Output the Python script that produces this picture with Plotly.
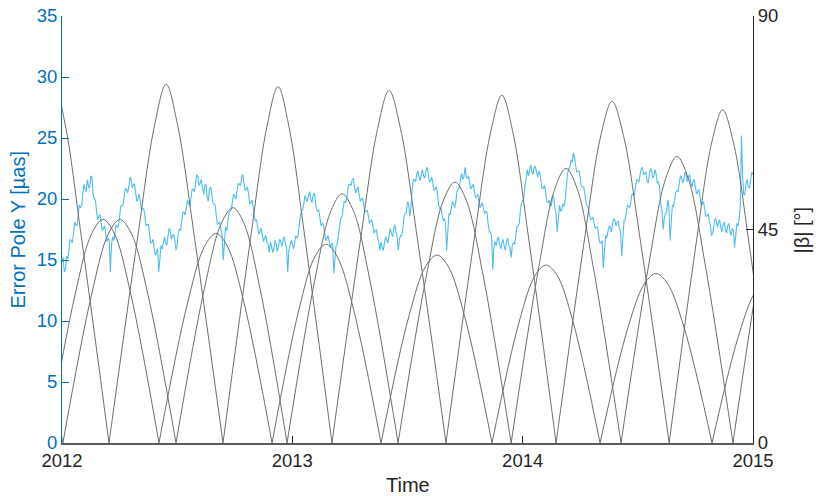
import plotly.graph_objects as go

# ---------------- data ----------------
# Error Pole Y [µas]: values at 2012.00, 2012.01, ... 2015.00
error_pole_y = [
    14.8, 14.0, 15.3, 15.8, 16.6, 17.2, 17.9, 18.6, 19.3, 20.4,
    20.8, 21.6, 20.9, 21.8, 20.0, 19.0, 18.6, 18.0, 17.6, 17.1,
    16.8, 14.0, 16.9, 17.2, 17.7, 18.6, 19.5, 20.2, 20.8, 21.0,
    21.6, 21.2, 20.5, 20.0, 19.9, 19.2, 18.6, 17.9, 17.2, 16.4,
    16.0, 15.6, 14.0, 16.2, 16.5, 16.4, 16.9, 17.4, 17.0, 16.6,
    16.2, 17.5, 18.2, 18.9, 19.3, 19.6, 20.1, 20.8, 21.3, 21.8,
    21.3, 20.9, 21.1, 20.2, 20.8, 20.5, 19.6, 18.6, 18.0, 17.5,
    15.0, 17.7, 18.0, 19.0, 19.8, 20.2, 20.7, 21.2, 21.8, 21.3,
    20.8, 20.4, 19.7, 19.4, 18.2, 17.6, 17.4, 17.0, 16.8, 16.4,
    15.6, 16.1, 16.0, 16.3, 16.1, 16.5, 16.7, 16.3, 14.0, 16.2,
    # 2013
    16.3, 16.4, 16.8, 17.8, 19.0, 19.7, 20.0, 20.3, 20.0, 20.3,
    19.8, 19.0, 18.4, 18.0, 17.2, 16.8, 16.5, 16.3, 13.9, 16.2,
    17.0, 18.4, 19.2, 19.7, 20.6, 21.2, 21.6, 21.0, 20.8, 20.4,
    20.0, 19.5, 19.0, 18.6, 18.2, 17.8, 17.4, 16.8, 15.8, 16.0,
    16.4, 16.6, 17.0, 17.2, 17.5, 17.3, 15.8, 17.0, 17.6, 18.8,
    19.8, 18.6, 20.8, 21.6, 22.0, 21.8, 22.1, 21.9, 22.3, 22.1,
    21.5, 21.3, 20.8, 20.5, 19.2, 18.7, 18.4, 15.8, 18.8, 19.3,
    19.6, 19.8, 20.8, 21.6, 21.6, 22.6, 21.7, 21.3, 21.0, 20.7,
    20.2, 19.8, 19.5, 19.2, 19.0, 18.0, 17.3, 14.2, 16.5, 16.7,
    16.3, 16.4, 16.1, 16.5, 16.2, 15.2, 16.4, 17.0, 17.8, 19.0,
    # 2014
    19.8, 21.0, 22.4, 22.5, 22.2, 22.6, 22.2, 22.3, 21.4, 20.9,
    20.5, 19.7, 19.4, 20.3, 19.2, 17.3, 19.5, 19.1, 19.4, 21.2,
    22.5, 23.2, 23.8, 22.7, 22.3, 21.7, 21.0, 20.4, 19.5, 18.7,
    18.4, 18.0, 17.7, 17.0, 16.4, 14.3, 17.0, 17.3, 17.7, 17.9,
    18.3, 18.1, 17.6, 15.3, 18.2, 18.9, 19.4, 19.8, 20.4, 21.0,
    21.5, 22.0, 22.6, 22.1, 21.5, 22.0, 22.3, 21.9, 22.0, 21.4,
    19.5, 17.5, 18.8, 19.9, 16.6, 19.5, 20.0, 20.7, 21.3, 21.8,
    21.6, 22.0, 21.8, 21.3, 21.5, 21.0, 20.6, 20.2, 19.6, 19.2,
    18.6, 18.2, 17.0, 17.8, 18.3, 18.0, 17.7, 17.9, 17.5, 17.8,
    17.4, 17.6, 16.0, 18.0, 18.3, 25.2, 20.3, 21.3, 21.0, 21.8,
    22.0,
]
# Error Pole Y [µas]: in-between samples at 2012.005, 2012.015, ... 2014.995
error_pole_y_between = [
    15.2, 14.3, 15.1, 16.7, 16.4, 18.1, 17.8, 19.5, 19.4, 21.2,
    20.6, 21.0, 21.9, 20.4, 19.9, 18.3, 18.7, 17.4, 17.8, 16.5,
    16.6, 16.3, 16.6, 17.9, 17.8, 19.4, 19.5, 20.9, 20.5, 21.8,
    20.9, 21.2, 19.8, 20.4, 19.1, 19.2, 17.8, 17.9, 16.4, 16.7,
    15.4, 15.9, 15.6, 15.9, 16.9, 16.2, 17.6, 16.7, 17.1, 15.8,
    17.2, 17.4, 18.9, 18.7, 19.9, 19.4, 20.8, 20.6, 22.0, 21.1,
    21.6, 20.4, 21.2, 19.8, 21.0, 19.7, 19.5, 17.9, 18.1, 17.0,
    16.8, 17.4, 18.9, 19.1, 20.4, 20.0, 21.3, 21.1, 22.0, 20.7,
    21.0, 19.6, 19.9, 18.5, 18.3, 17.1, 17.6, 16.5, 17.0, 16.3,
    16.5, 15.6, 16.6, 15.7, 16.7, 16.1, 16.9, 16.0, 15.8, 16.6,
    # 2013
    15.9, 17.0, 17.0, 18.7, 19.1, 20.3, 19.8, 20.6, 19.7, 20.5,
    19.1, 19.1, 17.8, 17.9, 16.6, 17.0, 16.0, 16.4, 15.5, 16.3,
    18.0, 18.5, 19.8, 19.9, 21.2, 21.1, 21.7, 20.5, 21.0, 19.8,
    20.1, 18.9, 19.1, 18.0, 18.3, 17.2, 17.5, 16.5, 16.5, 15.8,
    16.9, 16.4, 17.6, 16.9, 17.9, 16.9, 16.7, 17.0, 18.6, 18.9,
    19.6, 19.3, 21.6, 21.4, 22.3, 21.5, 22.4, 21.7, 22.6, 21.4,
    21.8, 20.7, 21.0, 19.5, 19.3, 18.2, 18.0, 17.6, 18.7, 19.8,
    19.3, 20.6, 20.9, 22.1, 21.8, 21.8, 21.9, 20.8, 21.2, 20.1,
    20.4, 19.3, 19.7, 18.8, 18.9, 17.3, 17.0, 16.0, 16.2, 16.9,
    15.9, 16.7, 15.8, 16.8, 16.0, 16.2, 16.3, 17.7, 18.0, 19.7,
    # 2014
    20.1, 22.0, 21.9, 22.8, 22.0, 22.7, 21.8, 22.1, 20.8, 21.1,
    19.8, 19.9, 19.5, 20.1, 18.8, 18.7, 19.0, 19.6, 20.0, 22.1,
    22.6, 23.0, 23.4, 22.2, 22.3, 21.0, 21.0, 19.7, 19.3, 18.3,
    18.5, 17.6, 17.7, 16.4, 16.6, 16.1, 16.8, 17.8, 17.3, 18.4,
    17.8, 18.2, 17.3, 17.4, 18.3, 19.5, 19.3, 20.4, 20.3, 21.6,
    21.4, 22.5, 22.0, 22.2, 21.3, 22.5, 21.7, 22.4, 21.3, 20.9,
    19.0, 18.5, 18.9, 19.4, 18.6, 19.4, 20.6, 20.6, 21.9, 21.3,
    22.2, 21.4, 22.0, 21.0, 21.6, 20.4, 20.8, 19.5, 19.8, 18.6,
    18.8, 17.9, 17.2, 18.4, 17.7, 18.3, 17.3, 18.1, 17.2, 18.0,
    17.0, 17.4, 17.3, 17.8, 19.6, 21.8, 20.4, 21.6, 20.9, 22.2,
]

time_main = [round(2012 + i * 0.01, 3) for i in range(len(error_pole_y))]
time_between = [round(2012.005 + i * 0.01, 3) for i in range(len(error_pole_y_between))]

# |beta| [deg] of three orbital planes, arch by arch:
# zero crossings, epoch and value of each maximum, value half-way up, value 80% of the way up
planeA_zero = [2011.726, 2012.204, 2012.699, 2013.172, 2013.667, 2014.145, 2014.636, 2015.100]
planeA_peak_t = [2011.965, 2012.452, 2012.938, 2013.420, 2013.910, 2014.388, 2014.868]
planeA_peak = [76.1, 75.6, 75.1, 74.3, 73.3, 72.0, 70.2]
planeA_half = [43.3, 43.2, 43.1, 42.9, 42.6, 42.3, 41.7]
planeA_high = [67.4, 67.1, 66.8, 66.3, 65.6, 64.8, 63.5]

planeB_zero = [2011.935, 2012.421, 2012.912, 2013.385, 2013.867, 2014.336, 2014.822, 2015.300]
planeB_peak_t = [2012.178, 2012.669, 2013.146, 2013.628, 2014.102, 2014.579, 2015.060]
planeB_peak = [47.1, 44.2, 41.9, 39.6, 37.5, 35.7, 33.9]
planeB_half = [31.2, 29.5, 28.2, 26.8, 25.5, 24.4, 23.2]
planeB_high = [44.2, 41.5, 39.4, 37.3, 35.4, 33.7, 32.0]

planeC_zero = [2011.510, 2012.004, 2012.495, 2012.977, 2013.459, 2013.950, 2014.427, 2014.913, 2015.400]
planeC_peak_t = [2011.757, 2012.252, 2012.742, 2013.216, 2013.706, 2014.188, 2014.670, 2015.157]
planeC_peak = [44.5, 47.1, 49.6, 52.5, 55.0, 57.9, 60.4, 63.0]
planeC_half = [29.7, 31.2, 32.6, 34.1, 35.4, 36.8, 37.9, 39.0]
planeC_high = [41.8, 44.2, 46.4, 49.0, 51.2, 53.7, 55.8, 57.9]

# ---------------- figure ----------------
BLUE_AX = "#0072BD"
BLUE_LINE = "#4DBEEE"
DARK = "#262626"
GRAY = "#6e6e6e"

# interleave the two blue sample sets in time order
blue_t, blue_v = [], []
for i in range(len(error_pole_y)):
    blue_t.append(time_main[i]); blue_v.append(error_pole_y[i])
    if i < len(error_pole_y_between):
        blue_t.append(time_between[i]); blue_v.append(error_pole_y_between[i])


def arches(zeros, peak_t, peak_v, half_v, high_v):
    xs, ys = [], []
    for i in range(len(peak_t)):
        z0, z1, pt = zeros[i], zeros[i + 1], peak_t[i]
        xs += [z0, z0 + 0.5 * (pt - z0), z0 + 0.8 * (pt - z0), pt,
               pt + 0.2 * (z1 - pt), pt + 0.5 * (z1 - pt), z1, None]
        ys += [0, half_v[i], high_v[i], peak_v[i], high_v[i], half_v[i], 0, None]
    return xs, ys


fig = go.Figure()
fig.add_trace(go.Scatter(
    x=blue_t, y=blue_v, mode="lines", hoverinfo="skip",
    line=dict(color=BLUE_LINE, width=1.1), yaxis="y", showlegend=False,
))
for z, pt, pv, hv, gv in [
    (planeA_zero, planeA_peak_t, planeA_peak, planeA_half, planeA_high),
    (planeB_zero, planeB_peak_t, planeB_peak, planeB_half, planeB_high),
    (planeC_zero, planeC_peak_t, planeC_peak, planeC_half, planeC_high),
]:
    xs, ys = arches(z, pt, pv, hv, gv)
    fig.add_trace(go.Scatter(
        x=xs, y=ys, mode="lines", yaxis="y2", connectgaps=False, hoverinfo="skip",
        line=dict(color=GRAY, width=1, shape="spline", smoothing=1.0),
        showlegend=False,
    ))

FONT = "Liberation Sans, Arial, Helvetica, sans-serif"
fig.update_layout(
    template="none",
    width=816, height=496,
    margin=dict(l=62, r=63, t=16, b=53, pad=0),
    paper_bgcolor="white", plot_bgcolor="white",
    font=dict(family=FONT, size=18, color=DARK),
    showlegend=False,
    xaxis=dict(
        range=[2012, 2015], tickvals=[2012, 2013, 2014, 2015],
        ticktext=["2012", "2013", "2014", "2015"],
        ticks="inside", ticklen=7, tickcolor=DARK, tickwidth=1,
        showline=True, linecolor="#5a5a5a", linewidth=1.5,
        showgrid=False, zeroline=False, automargin=False,
        tickfont=dict(size=18.5, color=DARK),
    ),
    yaxis=dict(
        range=[0, 35], tickvals=[0, 5, 10, 15, 20, 25, 30, 35],
        ticks="inside", ticklen=7, tickcolor=BLUE_AX, tickwidth=1,
        showline=True, linecolor=BLUE_AX, linewidth=1,
        showgrid=False, zeroline=False, automargin=False,
        tickfont=dict(size=18.5, color=BLUE_AX),
    ),
    yaxis2=dict(
        range=[0, 90], tickvals=[0, 45, 90], overlaying="y", side="right",
        ticks="inside", ticklen=7, tickcolor=DARK, tickwidth=1,
        showline=True, linecolor=DARK, linewidth=1,
        showgrid=False, zeroline=False, automargin=False,
        tickfont=dict(size=18.5, color=DARK),
    ),
    annotations=[
        dict(text="Error Pole Y [µas]", xref="paper", yref="paper",
             x=-0.0651, y=0.5, textangle=-90, showarrow=False,
             font=dict(size=20, color=BLUE_AX), xanchor="center", yanchor="middle"),
        dict(text="|β| [°]", xref="paper", yref="paper",
             x=1.0709, y=0.5, textangle=-90, showarrow=False,
             font=dict(size=20, color=DARK), xanchor="center", yanchor="middle"),
        dict(text="Time", xref="paper", yref="paper",
             x=0.5, y=-0.098, showarrow=False,
             font=dict(size=20, color=DARK), xanchor="center", yanchor="middle"),
    ],
)

fig.write_html("out.html", config={"displayModeBar": False},
               post_script="document.body.style.margin='0';")
